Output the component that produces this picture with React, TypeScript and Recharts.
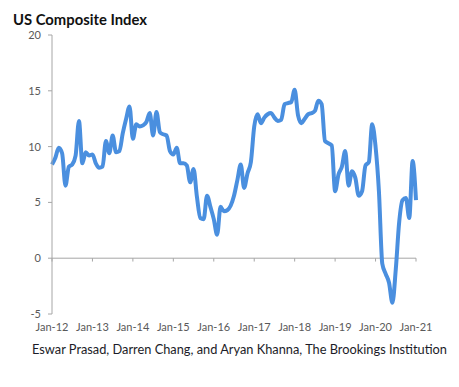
import { LineChart, Line, XAxis, YAxis, ReferenceLine } from "recharts";

// US composite index, monthly, Jan-12 .. Jan-21
const years = ["12", "13", "14", "15", "16", "17", "18", "19", "20", "21"];
const monthNames = ["Jan", "Feb", "Mar", "Apr", "May", "Jun", "Jul", "Aug", "Sep", "Oct", "Nov", "Dec"];

const index2012 = [8.4, 9.0, 9.9, 9.4, 6.5, 8.2, 8.4, 9.2, 12.3, 8.5, 9.5, 9.2];
const index2013 = [9.3, 8.5, 8.1, 8.2, 10.5, 9.4, 11.0, 9.5, 9.6, 11.2, 12.5, 13.6];
const index2014 = [10.7, 12.0, 11.8, 11.9, 12.2, 13.0, 11.0, 13.1, 11.3, 11.1, 11.0, 9.6];
const index2015 = [9.3, 9.9, 8.5, 8.5, 8.3, 6.8, 8.0, 5.5, 3.6, 3.5, 5.6, 4.6];
const index2016 = [3.5, 2.1, 4.6, 4.2, 4.3, 4.7, 5.6, 7.0, 8.4, 6.3, 7.6, 8.6];
const index2017 = [11.8, 12.9, 12.1, 12.6, 12.9, 13.0, 12.6, 12.3, 12.4, 13.8, 13.9, 14.0];
const index2018 = [15.1, 12.8, 12.1, 12.5, 12.9, 13.0, 13.2, 14.1, 13.8, 10.5, 10.3, 10.1];
const index2019 = [6.0, 7.5, 8.2, 9.6, 6.5, 7.8, 7.2, 5.6, 6.0, 8.3, 8.6, 12.0];
const index2020 = [10.0, 6.0, -0.5, -1.4, -2.2, -4.0, -1.0, 3.2, 5.2, 5.4, 3.6, 8.7];
const index2021 = [5.2];

const seriesByYear = [
  index2012, index2013, index2014, index2015, index2016,
  index2017, index2018, index2019, index2020, index2021,
];

const xTicks = years.map((y) => `Jan-${y}`);
const yTicks = [-5, 0, 5, 10, 15, 20];

const data = seriesByYear.flatMap((vals, i) =>
  vals.map((v, m) => ({ month: `${monthNames[m]}-${years[i]}`, value: v }))
);

const axisGray = "#a6a6a6";
const labelGray = "#595959";
const font = "Lato, 'DejaVu Sans', sans-serif";

export default function App() {
  return (
    <div style={{ position: "absolute", left: 0, top: 0, width: 459, height: 387, background: "#fff" }}>
      <LineChart
        width={459}
        height={387}
        data={data}
        margin={{ top: 35, right: 43, bottom: 43, left: 0 }}
      >
        <XAxis
          dataKey="month"
          ticks={xTicks}
          interval={0}
          height={30}
          axisLine={false}
          tickLine={false}
          tickSize={0}
          tickMargin={9}
          tick={{ fill: labelGray, fontSize: 11, fontFamily: font }}
        />
        <YAxis
          domain={[-5, 20]}
          ticks={yTicks}
          width={52}
          stroke={axisGray}
          tickSize={4}
          tickMargin={7}
          tick={{ fill: labelGray, fontSize: 11, fontFamily: font }}
        />
        <ReferenceLine y={0} stroke={axisGray} strokeWidth={1} />
        {xTicks.map((t) => (
          <ReferenceLine
            key={t}
            segment={[{ x: t, y: 0 }, { x: t, y: -0.3 }]}
            stroke={axisGray}
            strokeWidth={1}
          />
        ))}
        <Line
          type="monotone"
          dataKey="value"
          stroke="#4a8fdf"
          strokeWidth={4}
          dot={false}
          isAnimationActive={false}
        />
      </LineChart>
      <svg
        width={459}
        height={387}
        style={{ position: "absolute", left: 0, top: 0, pointerEvents: "none" }}
      >
        <text x={13} y={25} fontFamily={font} fontWeight={700} fontSize={14.5} fill="#111" textLength={134} lengthAdjust="spacingAndGlyphs">
          US Composite Index
        </text>
        <text x={32} y={354} fontFamily={font} fontSize={12.5} fill="#1c1c28" textLength={415} lengthAdjust="spacingAndGlyphs">
          Eswar Prasad, Darren Chang, and Aryan Khanna, The Brookings Institution
        </text>
      </svg>
    </div>
  );
}
